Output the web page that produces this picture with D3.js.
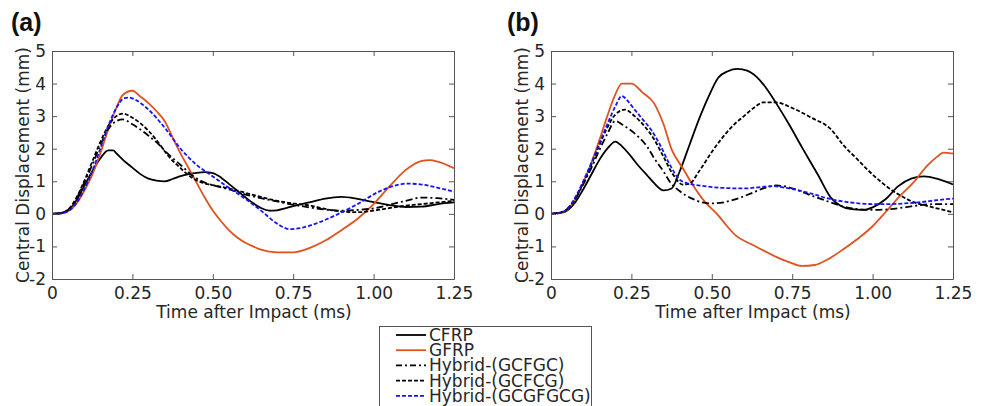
<!DOCTYPE html>
<html><head><meta charset="utf-8">
<script src="https://cdn.jsdelivr.net/npm/d3@7"></script>
<style>body{margin:0;background:#fff}svg{display:block}</style>
</head><body>
<svg id="c" width="987" height="406"></svg>
<script>
// ---------- DATA ----------
const seriesNames = ["CFRP","GFRP","Hybrid-(GCFGC)","Hybrid-(GCFCG)","Hybrid-(GCGFGCG)"];
const xTicks = [0,0.25,0.5,0.75,1.0,1.25];
const xTickLabels = ["0","0.25","0.50","0.75","1.00","1.25"];
const yTicks = [-2,-1,0,1,2,3,4,5];
const yTickLabels = ["-2","-1","0","1","2","3","4","5"];
const panelLabels = ["(a)","(b)"];

// Panel (a) series: [time (ms), displacement (mm)]
const a_CFRP = [[0,0],[0.025,0.02],[0.05,0.1],[0.075,0.4],[0.1,0.85],[0.125,1.3],[0.15,1.7],[0.175,1.95],[0.19,1.95],[0.2,1.86],[0.225,1.62],[0.25,1.42],[0.275,1.22],[0.3,1.08],[0.325,1.02],[0.35,1.0],[0.375,1.07],[0.4,1.16],[0.425,1.22],[0.45,1.26],[0.475,1.28],[0.5,1.25],[0.525,1.12],[0.55,0.92],[0.575,0.72],[0.6,0.52],[0.625,0.33],[0.65,0.18],[0.675,0.1],[0.7,0.11],[0.725,0.17],[0.75,0.24],[0.8,0.35],[0.85,0.47],[0.9,0.52],[0.95,0.46],[1.0,0.36],[1.05,0.27],[1.1,0.21],[1.15,0.22],[1.2,0.3],[1.25,0.35]];
const a_GFRP = [[0,0],[0.025,0.01],[0.05,0.08],[0.075,0.3],[0.1,0.7],[0.125,1.2],[0.15,1.85],[0.175,2.6],[0.2,3.25],[0.22,3.65],[0.25,3.78],[0.275,3.6],[0.3,3.4],[0.325,3.15],[0.35,2.85],[0.375,2.35],[0.4,1.85],[0.425,1.4],[0.45,0.95],[0.475,0.5],[0.5,0.1],[0.525,-0.22],[0.55,-0.5],[0.575,-0.72],[0.6,-0.88],[0.625,-1.0],[0.65,-1.1],[0.7,-1.18],[0.75,-1.18],[0.8,-1.05],[0.85,-0.82],[0.9,-0.5],[0.95,-0.15],[1.0,0.3],[1.05,0.85],[1.1,1.35],[1.15,1.63],[1.175,1.65],[1.2,1.6],[1.25,1.4]];
const a_GCFGC = [[0,0],[0.025,0.02],[0.05,0.12],[0.075,0.45],[0.1,0.95],[0.125,1.5],[0.15,2.1],[0.175,2.6],[0.2,2.85],[0.22,2.9],[0.25,2.75],[0.3,2.4],[0.33,2.15],[0.36,1.85],[0.4,1.5],[0.44,1.15],[0.47,0.98],[0.5,0.88],[0.55,0.75],[0.6,0.6],[0.65,0.48],[0.7,0.38],[0.75,0.28],[0.8,0.2],[0.85,0.13],[0.9,0.1],[0.95,0.12],[1.0,0.17],[1.05,0.28],[1.1,0.4],[1.15,0.5],[1.2,0.48],[1.25,0.43]];
const a_GCFCG = [[0,0],[0.025,0.02],[0.05,0.13],[0.075,0.48],[0.1,1.0],[0.125,1.6],[0.15,2.2],[0.175,2.7],[0.2,3.0],[0.22,3.08],[0.25,2.95],[0.3,2.55],[0.33,2.2],[0.36,1.8],[0.4,1.4],[0.44,1.08],[0.47,0.95],[0.5,0.88],[0.55,0.78],[0.6,0.65],[0.65,0.52],[0.7,0.4],[0.75,0.32],[0.8,0.26],[0.85,0.15],[0.9,0.07],[0.95,0.05],[1.0,0.1],[1.05,0.18],[1.1,0.25],[1.15,0.3],[1.2,0.35],[1.25,0.4]];
const a_GCGFGCG = [[0,0],[0.025,0.01],[0.05,0.08],[0.075,0.32],[0.1,0.75],[0.125,1.3],[0.15,2.0],[0.175,2.7],[0.2,3.25],[0.225,3.55],[0.24,3.57],[0.26,3.5],[0.3,3.2],[0.35,2.65],[0.4,2.0],[0.45,1.5],[0.5,1.15],[0.55,0.8],[0.6,0.47],[0.65,0.1],[0.7,-0.3],[0.74,-0.47],[0.78,-0.42],[0.82,-0.3],[0.88,-0.05],[0.95,0.3],[1.02,0.7],[1.08,0.9],[1.1,0.93],[1.15,0.9],[1.2,0.8],[1.25,0.68]];

// Panel (b) series
const b_CFRP = [[0,0],[0.04,0.05],[0.075,0.35],[0.1,0.75],[0.125,1.2],[0.15,1.65],[0.175,2.0],[0.2,2.22],[0.22,2.08],[0.25,1.75],[0.27,1.5],[0.3,1.17],[0.32,0.95],[0.35,0.72],[0.375,0.78],[0.4,1.3],[0.43,2.1],[0.46,2.9],[0.49,3.6],[0.52,4.18],[0.55,4.38],[0.58,4.45],[0.61,4.4],[0.64,4.2],[0.67,3.85],[0.7,3.4],[0.74,2.75],[0.78,2.05],[0.83,1.2],[0.87,0.5],[0.9,0.25],[0.93,0.15],[0.97,0.12],[1.0,0.2],[1.04,0.45],[1.08,0.85],[1.12,1.08],[1.16,1.15],[1.2,1.08],[1.25,0.9]];
const b_GFRP = [[0,0],[0.04,0.05],[0.075,0.45],[0.1,0.95],[0.125,1.55],[0.15,2.25],[0.175,3.0],[0.198,3.62],[0.22,4.0],[0.25,4.0],[0.285,3.72],[0.32,3.4],[0.35,2.75],[0.375,1.98],[0.41,1.4],[0.44,0.9],[0.48,0.35],[0.516,0.0],[0.545,-0.35],[0.575,-0.67],[0.62,-0.92],[0.66,-1.12],[0.7,-1.32],[0.74,-1.48],[0.78,-1.6],[0.82,-1.57],[0.86,-1.4],[0.91,-1.08],[0.96,-0.72],[1.0,-0.38],[1.04,0.05],[1.08,0.5],[1.13,1.0],[1.17,1.48],[1.2,1.75],[1.22,1.88],[1.25,1.85]];
const b_GCFGC = [[0,0],[0.04,0.08],[0.075,0.45],[0.1,0.9],[0.125,1.4],[0.15,1.95],[0.175,2.45],[0.2,2.85],[0.22,2.75],[0.25,2.55],[0.27,2.38],[0.3,2.05],[0.32,1.72],[0.35,1.3],[0.37,0.98],[0.4,0.7],[0.42,0.56],[0.45,0.42],[0.47,0.35],[0.5,0.32],[0.54,0.36],[0.58,0.47],[0.62,0.62],[0.66,0.78],[0.7,0.87],[0.73,0.84],[0.76,0.75],[0.8,0.6],[0.85,0.42],[0.9,0.25],[0.95,0.15],[1.0,0.12],[1.05,0.14],[1.1,0.2],[1.15,0.27],[1.2,0.3],[1.25,0.3]];
const b_GCFCG = [[0,0],[0.04,0.07],[0.075,0.45],[0.1,0.95],[0.125,1.5],[0.15,2.1],[0.175,2.65],[0.2,3.05],[0.23,3.2],[0.26,3.0],[0.29,2.7],[0.32,2.3],[0.35,1.75],[0.38,1.2],[0.41,0.9],[0.43,0.92],[0.46,1.3],[0.5,1.9],[0.53,2.3],[0.57,2.75],[0.6,3.0],[0.63,3.25],[0.66,3.42],[0.7,3.42],[0.75,3.25],[0.81,2.95],[0.87,2.6],[0.91,2.1],[0.95,1.7],[0.99,1.3],[1.03,0.95],[1.08,0.6],[1.13,0.35],[1.18,0.22],[1.22,0.12],[1.25,0.05]];
const b_GCGFGCG = [[0,0],[0.025,0.02],[0.05,0.15],[0.075,0.5],[0.1,1.0],[0.125,1.55],[0.15,2.15],[0.175,2.75],[0.2,3.3],[0.22,3.62],[0.24,3.45],[0.26,3.2],[0.285,2.9],[0.31,2.6],[0.34,2.1],[0.37,1.5],[0.4,1.05],[0.42,0.95],[0.47,0.86],[0.53,0.8],[0.6,0.78],[0.65,0.82],[0.69,0.85],[0.73,0.8],[0.8,0.65],[0.87,0.45],[0.93,0.35],[1.0,0.3],[1.05,0.3],[1.1,0.32],[1.15,0.36],[1.2,0.42],[1.25,0.47]];

const panelData = [
  [a_CFRP, a_GFRP, a_GCFGC, a_GCFCG, a_GCGFGCG],
  [b_CFRP, b_GFRP, b_GCFGC, b_GCFCG, b_GCGFGCG]
];

// ---------- STYLE ----------
const colors = ["#000000","#e0521e","#000000","#000000","#1515f5"];
const dashes = [null, null, "7,3,2,3", "4,2", "4,2"];
const font = "'DejaVu Sans', Verdana, sans-serif";
const axisColor = "#555";
const txtColor = "#262626";

const svg = d3.select("#c");
const panels = [{x0:52,x1:454},{x0:551,x1:953}];
const yTop = 51, yBot = 279;

panels.forEach((p, i) => {
  const x = d3.scaleLinear().domain([0,1.25]).range([p.x0,p.x1]);
  const y = d3.scaleLinear().domain([-2,5]).range([yBot,yTop]);
  const g = svg.append("g");

  const line = d3.line().x(d=>x(d[0])).y(d=>y(d[1])).curve(d3.curveMonotoneX);
  panelData[i].forEach((s, k) => {
    g.append("path").attr("d", line(s)).attr("fill","none")
      .attr("stroke", colors[k]).attr("stroke-width", 1.8)
      .attr("stroke-dasharray", dashes[k]);
  });

  const tick = 5;
  const bottom = g.append("g").attr("transform",`translate(0,${yBot})`)
    .call(d3.axisBottom(x).tickValues(xTicks).tickFormat((d,j)=>xTickLabels[j]).tickSizeInner(-tick).tickSizeOuter(0).tickPadding(8));
  const top = g.append("g").attr("transform",`translate(0,${yTop})`)
    .call(d3.axisTop(x).tickValues(xTicks).tickFormat("").tickSizeInner(-tick).tickSizeOuter(0));
  const left = g.append("g").attr("transform",`translate(${p.x0},0)`)
    .call(d3.axisLeft(y).tickValues(yTicks).tickFormat((d,j)=>yTickLabels[j]).tickSizeInner(-tick).tickSizeOuter(0).tickPadding(6));
  const right = g.append("g").attr("transform",`translate(${p.x1},0)`)
    .call(d3.axisRight(y).tickValues(yTicks).tickFormat("").tickSizeInner(-tick).tickSizeOuter(0));
  [bottom,top,left,right].forEach(a=>{
    a.selectAll("path").attr("stroke",axisColor).attr("stroke-width",1);
    a.selectAll("line").attr("stroke",axisColor);
    a.selectAll("text").attr("font-family",font).attr("font-size",17).attr("fill",txtColor);
  });

  g.append("text").attr("x",(p.x0+p.x1)/2+1).attr("y",318).attr("text-anchor","middle")
    .attr("font-family",font).attr("font-size",17).attr("fill",txtColor).text("Time after Impact (ms)");
  g.append("text").attr("transform",`translate(${p.x0-23},${(yTop+yBot)/2}) rotate(-90)`)
    .attr("text-anchor","middle").attr("font-family",font).attr("font-size",17).attr("fill",txtColor)
    .text("Central Displacement (mm)");
  g.append("text").attr("x", i===0 ? 11 : 507).attr("y",31)
    .attr("font-family","'Liberation Sans', Arial, sans-serif").attr("font-weight","bold").attr("font-size",25)
    .attr("fill","#111").text(panelLabels[i]);
});

// ---------- LEGEND ----------
const lg = svg.append("g");
lg.append("rect").attr("x",379.5).attr("y",326.5).attr("width",212).attr("height",100)
  .attr("fill","#fff").attr("stroke","#555");
seriesNames.forEach((name,k)=>{
  const yy = 335 + k*15.2;
  lg.append("line").attr("x1",396).attr("x2",426).attr("y1",yy).attr("y2",yy)
    .attr("stroke",colors[k]).attr("stroke-width",1.8).attr("stroke-dasharray", k===2 ? "6,3,2,3" : dashes[k]);
  lg.append("text").attr("x",429).attr("y",yy+6).attr("font-family",font).attr("font-size",17)
    .attr("fill",txtColor).text(name);
});
</script>
</body></html>
